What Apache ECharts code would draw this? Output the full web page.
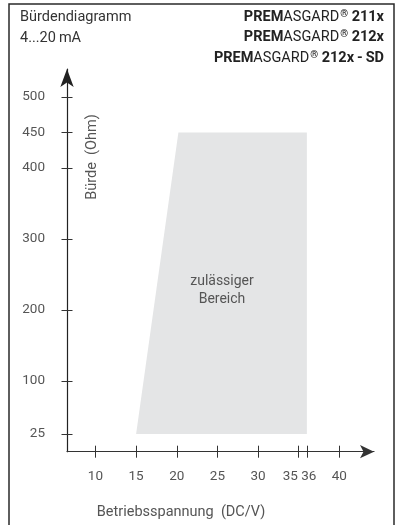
<!DOCTYPE html>
<html><head><meta charset="utf-8">
<script src="https://cdn.jsdelivr.net/npm/echarts@6/dist/echarts.min.js"></script>
<style>html,body{margin:0;padding:0;background:#fff}#c{width:400px;height:525px}</style>
</head><body><div id="c"></div>
<script>
const xTicks = [10, 15, 20, 25, 30, 35, 36, 40];
const yTicks = [25, 100, 200, 300, 400, 450, 500];
const regionX = [15, 20.2, 36, 36];
const regionY = [25, 450, 450, 25];
const titleLeft = ['Bürdendiagramm', '4...20\u2009mA'];
const models = ['211x', '212x', '212x\u2009-\u2009SD'];
const xName = 'Betriebsspannung  (DC/V)';
const yName = 'Bürde  (Ohm)';
const regionName = 'zulässiger\nBereich';

const FONT = 'Roboto';
const chart = echarts.init(document.getElementById('c'));
const regionData = regionX.map((x, i) => [x, regionY[i]]);

const xAxisBase = {
  type: 'value', min: 6.5, max: 44.26, position: 'bottom',
  splitLine: {show: false}
};
const yAxisBase = {
  type: 'value', min: 0, max: 539.4, position: 'left',
  splitLine: {show: false}
};

const modelGraphics = models.map((m, i) => ({
  type: 'text', z: 20, x: 384, y: 17 + i * 20.5,
  style: {
    text: '{b|PREM}{n|ASGARD}{s|®}{b| ' + m + '}',
    align: 'right', verticalAlign: 'middle',
    rich: {
      b: {fontFamily: FONT, fontSize: 14.5, fontWeight: 'bold', fill: '#222'},
      n: {fontFamily: FONT, fontSize: 14.5, fontWeight: 'normal', fill: '#222'},
      s: {fontFamily: FONT, fontSize: 10, fontWeight: 'bold', fill: '#222', verticalAlign: 'top', padding: [0, 0, 6, 1]}
    }
  }
}));

chart.setOption({
  animation: false,
  grid: {left: 67, top: 69, right: 26, bottom: 73.3},
  graphic: [
    {type: 'rect', shape: {x: 9, y: 4, width: 385, height: 540},
     style: {fill: 'none', stroke: '#2a2a2a', lineWidth: 1.5}, z: 100},
    {type: 'text', z: 20, x: 20, y: 17, style: {
      text: titleLeft[0], fontFamily: FONT, fontSize: 14.5, fill: '#333', verticalAlign: 'middle'}},
    {type: 'text', z: 20, x: 20, y: 38, style: {
      text: titleLeft[1], fontFamily: FONT, fontSize: 14.5, fill: '#333', verticalAlign: 'middle'}},
    ...modelGraphics,
    {type: 'text', z: 20, x: 92, y: 157, rotation: Math.PI / 2, style: {
      text: yName, fontFamily: FONT, fontSize: 14.5, fill: '#555', align: 'center', verticalAlign: 'middle'}},
    {type: 'text', z: 20, x: 181, y: 512, style: {
      text: xName, fontFamily: FONT, fontSize: 14.5, fill: '#555', align: 'center', verticalAlign: 'middle'}},
    {type: 'text', z: 20, x: 222, y: 290, style: {
      text: regionName, fontFamily: FONT, fontSize: 14, fill: '#555', align: 'center', verticalAlign: 'middle', lineHeight: 18}}
  ],
  xAxis: [
    Object.assign({}, xAxisBase, {
      axisLine: {show: true, lineStyle: {color: '#333', width: 1.2}, symbol: ['none', 'arrow'], symbolSize: [10, 14]},
      axisTick: {show: true, inside: false, length: 6, customValues: xTicks, lineStyle: {color: '#333', width: 1}},
      axisLabel: {show: true, customValues: xTicks, margin: 18, color: '#555', fontFamily: FONT, fontSize: 13.5,
        formatter: v => v === 35 ? '{a|35}' : (v === 36 ? '{c|36}' : String(v)),
        rich: {a: {padding: [0, 17, 0, 0], color: '#555', fontFamily: FONT, fontSize: 13.5},
               c: {padding: [0, 0, 0, 4], color: '#555', fontFamily: FONT, fontSize: 13.5}}}
    }),
    Object.assign({}, xAxisBase, {
      axisLine: {show: false},
      axisTick: {show: true, inside: true, length: 6, customValues: xTicks, lineStyle: {color: '#333', width: 1}},
      axisLabel: {show: false}
    })
  ],
  yAxis: [
    Object.assign({}, yAxisBase, {
      axisLine: {show: true, lineStyle: {color: '#222', width: 1.2}, symbol: ['none', 'arrow'], symbolSize: [10, 18]},
      axisTick: {show: true, inside: false, length: 5.5, customValues: yTicks, lineStyle: {color: '#333', width: 1}},
      axisLabel: {show: true, customValues: yTicks, margin: 22, color: '#555', fontFamily: FONT, fontSize: 13.5}
    }),
    Object.assign({}, yAxisBase, {
      axisLine: {show: false},
      axisTick: {show: true, inside: true, length: 5.5, customValues: yTicks, lineStyle: {color: '#333', width: 1}},
      axisLabel: {show: false}
    })
  ],
  series: [{
    type: 'custom', xAxisIndex: 0, yAxisIndex: 0, data: [0], z: 1,
    renderItem: (params, api) => ({
      type: 'polygon',
      shape: {points: regionData.map(p => api.coord(p))},
      style: {fill: '#e4e5e6'}
    })
  }]
});
</script></body></html>
